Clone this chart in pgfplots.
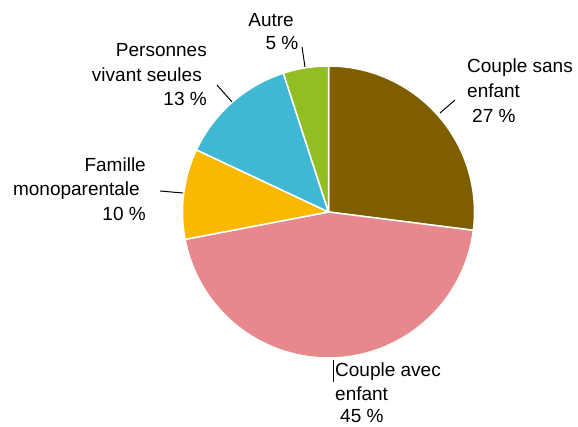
\documentclass[border=0pt]{standalone}
\usepackage{pgfplots}
\pgfplotsset{compat=1.18}
\usepackage{fontspec}
\setmainfont{Liberation Sans}
\definecolor{cBrown}{RGB}{127,94,0}
\definecolor{cPink}{RGB}{230,136,140}
\definecolor{cYellow}{RGB}{251,184,0}
\definecolor{cCyan}{RGB}{65,184,211}
\definecolor{cGreen}{RGB}{146,190,36}
% shares (%) : Couple sans enfant, Couple avec enfant, Famille monoparentale, Personnes vivant seules, Autre
\def\vA{27}\def\vB{45}\def\vC{10}\def\vD{13}\def\vE{5}
\begin{document}
\begin{tikzpicture}
\pgfmathsetmacro{\aA}{90}
\pgfmathsetmacro{\aB}{90-3.6*\vA}
\pgfmathsetmacro{\aC}{\aB-3.6*\vB}
\pgfmathsetmacro{\aD}{\aC-3.6*\vC}
\pgfmathsetmacro{\aE}{\aD-3.6*\vD}
\pgfmathsetmacro{\aF}{\aE-3.6*\vE}
\def\cx{328.5}\def\cy{215}\def\r{146}
\begin{axis}[
  at={(0,0)}, anchor=south west,
  width=578bp, height=427bp, scale only axis,
  xmin=0, xmax=578, ymin=0, ymax=427,
  hide axis, clip=false,
  every axis plot/.append style={line join=round},
]
\addplot[fill=cBrown, draw=white, line width=1.5pt, domain=\aB:\aA, samples=60, variable=\t]
  ({\cx+\r*cos(t)},{\cy+\r*sin(t)}) -- (axis cs:\cx,\cy) -- cycle;
\addplot[fill=cPink, draw=white, line width=1.5pt, domain=\aC:\aB, samples=90, variable=\t]
  ({\cx+\r*cos(t)},{\cy+\r*sin(t)}) -- (axis cs:\cx,\cy) -- cycle;
\addplot[fill=cYellow, draw=white, line width=1.5pt, domain=\aD:\aC, samples=30, variable=\t]
  ({\cx+\r*cos(t)},{\cy+\r*sin(t)}) -- (axis cs:\cx,\cy) -- cycle;
\addplot[fill=cCyan, draw=white, line width=1.5pt, domain=\aE:\aD, samples=30, variable=\t]
  ({\cx+\r*cos(t)},{\cy+\r*sin(t)}) -- (axis cs:\cx,\cy) -- cycle;
\addplot[fill=cGreen, draw=white, line width=1.5pt, domain=\aF:\aE, samples=20, variable=\t]
  ({\cx+\r*cos(t)},{\cy+\r*sin(t)}) -- (axis cs:\cx,\cy) -- cycle;
% leader lines
\addplot[black, line width=1pt] coordinates {(440,314) (455,327)};
\addplot[black, line width=1pt] coordinates {(302,380) (305,360)};
\addplot[black, line width=1pt] coordinates {(217,342) (232,325)};
\addplot[black, line width=1pt] coordinates {(160,236) (183,234)};
\addplot[black, line width=1pt] coordinates {(333,67) (333,45)};
% labels
\begin{scope}[every node/.style={inner sep=0pt, font=\fontsize{19bp}{23bp}\selectfont}]
\node[anchor=base west] at (axis cs:467,354) {Couple sans};
\node[anchor=base west] at (axis cs:467,329) {enfant};
\node[anchor=base west] at (axis cs:472,304) {27 \%};
\node[anchor=base east] at (axis cs:294,400) {Autre};
\node[anchor=base east] at (axis cs:298.5,377) {5 \%};
\node[anchor=base east] at (axis cs:207,370) {Personnes};
\node[anchor=base east] at (axis cs:202,345) {vivant seules};
\node[anchor=base east] at (axis cs:207,321) {13 \%};
\node[anchor=base east] at (axis cs:146,255) {Famille};
\node[anchor=base east] at (axis cs:140,231) {monoparentale};
\node[anchor=base east] at (axis cs:146,206) {10 \%};
\node[anchor=base west] at (axis cs:335,50) {Couple avec};
\node[anchor=base west] at (axis cs:335,26) {enfant};
\node[anchor=base west] at (axis cs:340,4) {45 \%};
\end{scope}
\end{axis}
\pgfresetboundingbox
\path (current axis.south west) rectangle (current axis.north east);
\end{tikzpicture}
\end{document}
